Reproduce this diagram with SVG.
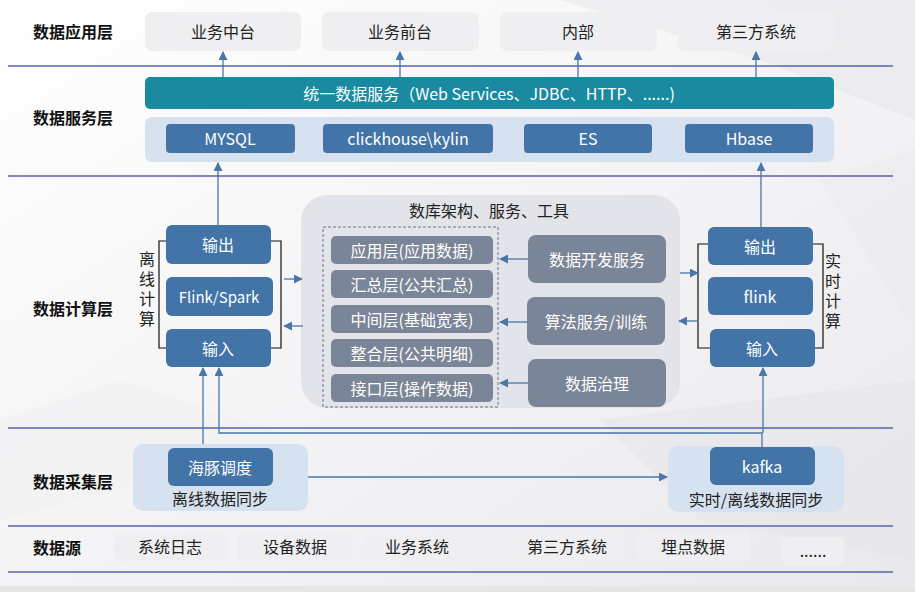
<svg xmlns="http://www.w3.org/2000/svg" width="915" height="592" viewBox="0 0 915 592">
<defs>
<linearGradient id="bg" x1="0" y1="0" x2="1" y2="1">
<stop offset="0" stop-color="#ffffff"/>
<stop offset="0.5" stop-color="#f4f4f6"/>
<stop offset="1" stop-color="#e9e9ec"/>
</linearGradient>
<marker id="ah" viewBox="0 0 10 10" refX="9" refY="5" markerWidth="9" markerHeight="9" markerUnits="userSpaceOnUse" orient="auto">
<path d="M0,0 L10,5 L0,10 z" fill="#4a76a8"/>
</marker>
</defs>
<style>
.lbl{font-family:"Noto Sans CJK SC","Liberation Sans",sans-serif;font-size:16px;font-weight:bold;fill:#111;}
.t{font-family:"Noto Sans CJK SC","Liberation Sans",sans-serif;font-size:16px;fill:#222;text-anchor:middle;dominant-baseline:central;}
.w{font-family:"Noto Sans CJK SC","Liberation Sans",sans-serif;font-size:16px;fill:#fff;text-anchor:middle;dominant-baseline:central;}
.v{font-family:"Noto Sans CJK SC","Liberation Sans",sans-serif;font-size:16px;fill:#222;writing-mode:vertical-rl;letter-spacing:4px;}
.app{fill:#efeff1;}
.blue{fill:#4374a8;}
.lightblue{fill:#d6e2ef;}
.gray{fill:#7a8597;}
.sep{stroke:#5c60a8;stroke-width:1.3;fill:none;}
.conn{stroke:#4a76a8;stroke-width:1.3;fill:none;}
.brk{stroke:#111;stroke-width:1.2;fill:none;}
</style>
<rect width="915" height="592" fill="url(#bg)"/>
<g opacity="0.55">
<polygon points="560,0 915,0 915,120 760,60" fill="#e8e8eb"/>
<polygon points="0,420 120,380 300,440 0,520" fill="#f1f1f3"/>
<polygon points="600,420 915,380 915,560 700,520" fill="#e6e6e9"/>
<polygon points="820,180 915,150 915,330" fill="#ececee"/>
</g>
<rect x="0" y="586" width="915" height="6" fill="#e6e6e6"/>

<g id="separators">
<line class="sep" x1="8" y1="66" x2="893" y2="66"/>
<line class="sep" x1="8" y1="176" x2="893" y2="176"/>
<line class="sep" x1="8" y1="428" x2="893" y2="428"/>
<line class="sep" x1="8" y1="526" x2="893" y2="526"/>
<line class="sep" x1="8" y1="572" x2="893" y2="572"/>
</g>

<g id="layer-labels">
<text class="lbl" x="33" y="38">数据应用层</text>
<text class="lbl" x="33" y="124">数据服务层</text>
<text class="lbl" x="33" y="315">数据计算层</text>
<text class="lbl" x="33" y="488">数据采集层</text>
<text class="lbl" x="33" y="554">数据源</text>
</g>

<g id="app-zhongtai"><rect class="app" x="145" y="12" width="156" height="39" rx="7"/><text class="t" x="223" y="31">业务中台</text></g>
<g id="app-qiantai"><rect class="app" x="322" y="12" width="157" height="39" rx="7"/><text class="t" x="400" y="31">业务前台</text></g>
<g id="app-neibu"><rect class="app" x="500" y="12" width="157" height="39" rx="7"/><text class="t" x="578" y="31">内部</text></g>
<g id="app-third"><rect class="app" x="678" y="12" width="156" height="39" rx="7"/><text class="t" x="756" y="31">第三方系统</text></g>

<g id="unified-service"><rect x="145" y="77" width="689" height="32" rx="5" fill="#1a8aa0"/><text class="w" x="489" y="93">统一数据服务（Web Services、JDBC、HTTP、......)</text></g>

<g id="storage-panel"><rect class="lightblue" x="145" y="117" width="689" height="45" rx="7"/></g>
<g id="mysql"><rect class="blue" x="166" y="124" width="129" height="29" rx="4"/><text class="w" x="230" y="138">MYSQL</text></g>
<g id="clickhouse"><rect class="blue" x="323" y="124" width="170" height="29" rx="4"/><text class="w" x="408" y="138">clickhouse\kylin</text></g>
<g id="es"><rect class="blue" x="524" y="124" width="128" height="29" rx="4"/><text class="w" x="588" y="138">ES</text></g>
<g id="hbase"><rect class="blue" x="685" y="124" width="128" height="29" rx="4"/><text class="w" x="749" y="138">Hbase</text></g>

<g id="warehouse-panel">
<rect x="301" y="195" width="379" height="213" rx="26" fill="#e3e4e9"/>
<text class="t" x="489" y="210">数库架构、服务、工具</text>
<rect x="323" y="227" width="175" height="180" fill="none" stroke="#6a7283" stroke-width="1" stroke-dasharray="3,2"/>
</g>
<g id="layer-app"><rect class="gray" x="331" y="236" width="162" height="28" rx="5"/><text class="w" x="412" y="250">应用层(应用数据)</text></g>
<g id="layer-sum"><rect class="gray" x="331" y="270" width="162" height="28" rx="5"/><text class="w" x="412" y="284">汇总层(公共汇总)</text></g>
<g id="layer-mid"><rect class="gray" x="331" y="305" width="162" height="28" rx="5"/><text class="w" x="412" y="319">中间层(基础宽表)</text></g>
<g id="layer-int"><rect class="gray" x="331" y="339" width="162" height="28" rx="5"/><text class="w" x="412" y="353">整合层(公共明细)</text></g>
<g id="layer-ods"><rect class="gray" x="331" y="374" width="162" height="28" rx="5"/><text class="w" x="412" y="388">接口层(操作数据)</text></g>
<g id="svc-dev"><rect class="gray" x="528" y="235" width="138" height="48" rx="8"/><text class="w" x="597" y="259">数据开发服务</text></g>
<g id="svc-algo"><rect class="gray" x="527" y="297" width="138" height="48" rx="8"/><text class="w" x="596" y="321">算法服务/训练</text></g>
<g id="svc-gov"><rect class="gray" x="528" y="359" width="138" height="48" rx="8"/><text class="w" x="597" y="383">数据治理</text></g>

<g id="offline-compute">
<path class="brk" d="M166,241 H159 V348 H166 M271,241 H281 V348 H271"/>
<text class="v" x="147" y="251">离线计算</text>
</g>
<g id="off-out"><rect class="blue" x="166" y="225" width="105" height="39" rx="6"/><text class="w" x="218" y="244">输出</text></g>
<g id="off-engine"><rect class="blue" x="166" y="277" width="107" height="39" rx="6"/><text class="w" x="219" y="296" style="font-size:15px">Flink/Spark</text></g>
<g id="off-in"><rect class="blue" x="166" y="329" width="105" height="38" rx="6"/><text class="w" x="218" y="348">输入</text></g>

<g id="realtime-compute">
<path class="brk" d="M708,244 H698 V348 H710 M813,244 H823 V348 H815"/>
<text class="v" x="833" y="253">实时计算</text>
</g>
<g id="rt-out"><rect class="blue" x="708" y="227" width="105" height="38" rx="6"/><text class="w" x="760" y="246">输出</text></g>
<g id="rt-engine"><rect class="blue" x="708" y="277" width="105" height="38" rx="6"/><text class="w" x="760" y="296">flink</text></g>
<g id="rt-in"><rect class="blue" x="710" y="329" width="105" height="38" rx="6"/><text class="w" x="762" y="348">输入</text></g>

<g id="collect-offline"><rect class="lightblue" x="133" y="444" width="175" height="67" rx="10"/><rect class="blue" x="168" y="448" width="105" height="38" rx="6"/><text class="w" x="220" y="467">海豚调度</text><text class="t" x="220" y="498">离线数据同步</text></g>
<g id="collect-realtime"><rect class="lightblue" x="668" y="446" width="176" height="66" rx="10"/><rect class="blue" x="710" y="447" width="105" height="38" rx="6"/><text class="w" x="762" y="466">kafka</text><text class="t" x="756" y="499">实时/离线数据同步</text></g>

<g id="src-log"><rect class="app" x="113" y="533" width="114" height="28" rx="5"/><text class="t" x="170" y="546">系统日志</text></g>
<g id="src-device"><rect class="app" x="238" y="533" width="114" height="28" rx="5"/><text class="t" x="295" y="546">设备数据</text></g>
<g id="src-biz"><rect class="app" x="363" y="533" width="114" height="28" rx="5"/><text class="t" x="417" y="546">业务系统</text></g>
<g id="src-third"><rect class="app" x="510" y="533" width="114" height="28" rx="5"/><text class="t" x="567" y="546">第三方系统</text></g>
<g id="src-track"><rect class="app" x="637" y="533" width="113" height="28" rx="5"/><text class="t" x="693" y="546">埋点数据</text></g>
<g id="src-more"><rect class="app" x="782" y="537" width="62" height="29" rx="5"/><text class="t" x="813" y="550">......</text></g>

<g id="connectors">
<line class="conn" x1="223" y1="77" x2="223" y2="52" marker-end="url(#ah)"/>
<line class="conn" x1="400" y1="77" x2="400" y2="52" marker-end="url(#ah)"/>
<line class="conn" x1="578" y1="77" x2="578" y2="52" marker-end="url(#ah)"/>
<line class="conn" x1="756" y1="77" x2="756" y2="52" marker-end="url(#ah)"/>
<line class="conn" x1="218" y1="225" x2="218" y2="163" marker-end="url(#ah)"/>
<line class="conn" x1="761" y1="227" x2="761" y2="163" marker-end="url(#ah)"/>
<line class="conn" x1="284" y1="279" x2="302" y2="279" marker-end="url(#ah)"/>
<line class="conn" x1="303" y1="326" x2="284" y2="326" marker-end="url(#ah)"/>
<line class="conn" x1="680" y1="273" x2="698" y2="273" marker-end="url(#ah)"/>
<line class="conn" x1="698" y1="321" x2="679" y2="321" marker-end="url(#ah)"/>
<line class="conn" x1="528" y1="259" x2="500" y2="259" marker-end="url(#ah)"/>
<line class="conn" x1="527" y1="322" x2="500" y2="322" marker-end="url(#ah)"/>
<line class="conn" x1="528" y1="383" x2="500" y2="383" marker-end="url(#ah)"/>
<line class="conn" x1="203" y1="444" x2="203" y2="368" marker-end="url(#ah)"/>
<polyline class="conn" points="762,447 762,433 219,433 219,368" marker-end="url(#ah)"/>
<line class="conn" x1="763" y1="433" x2="763" y2="368" marker-end="url(#ah)"/>
<line class="conn" x1="308" y1="477" x2="667" y2="477" marker-end="url(#ah)"/>
</g>
</svg>
